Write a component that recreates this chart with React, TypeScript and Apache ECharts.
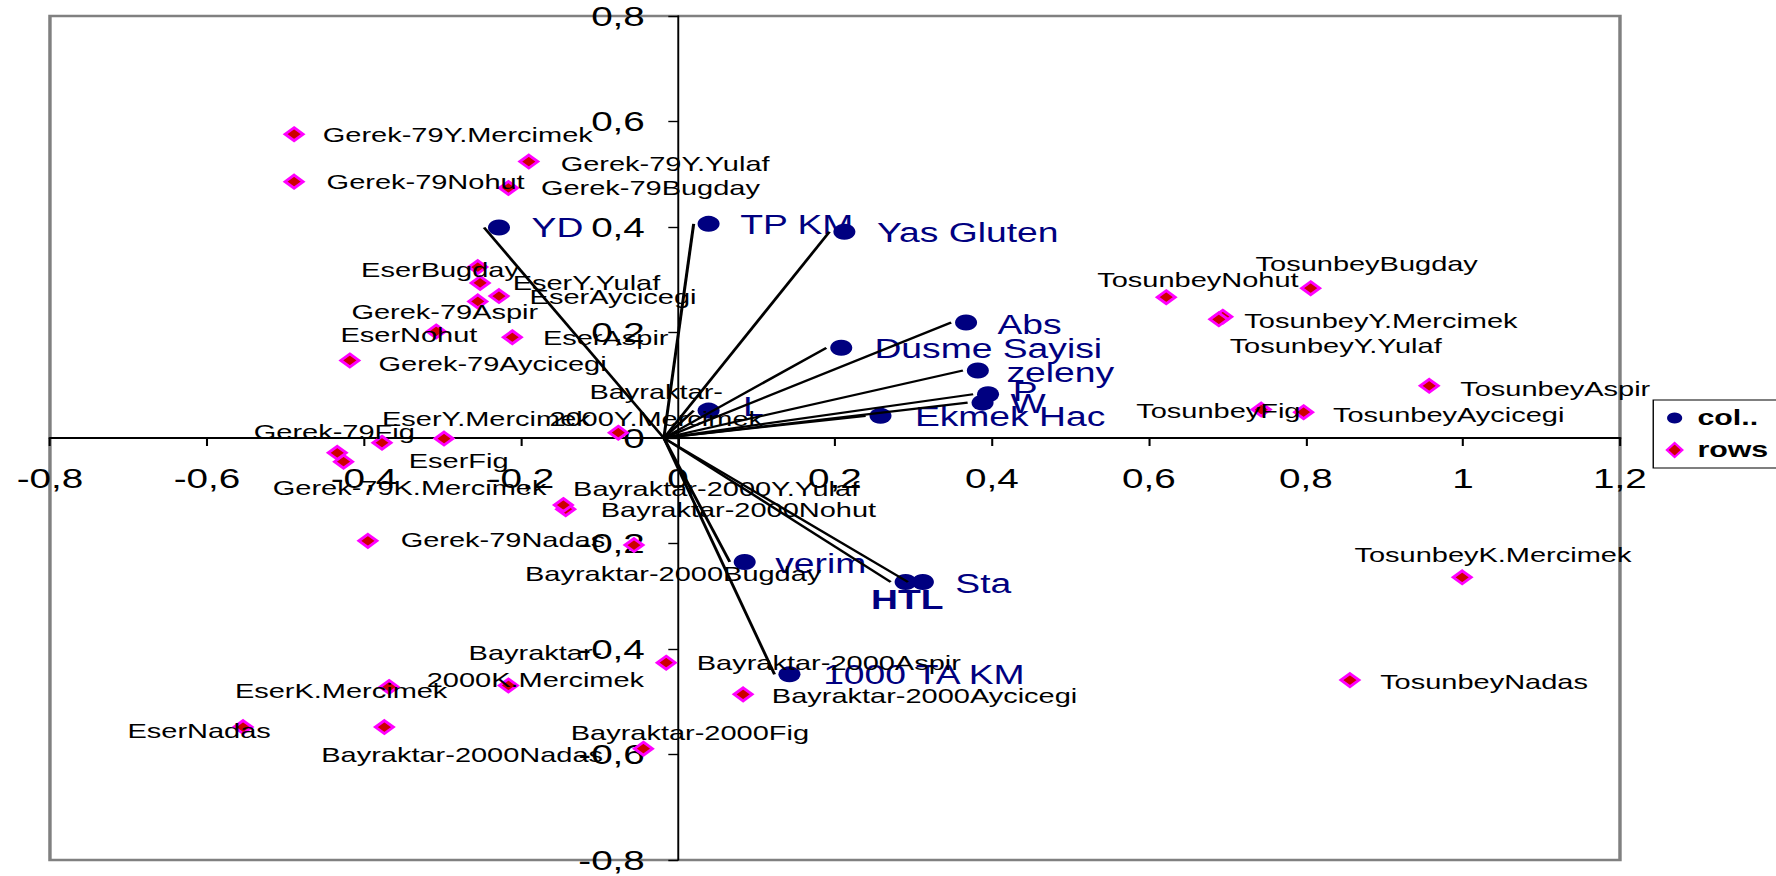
import React, { useEffect, useRef } from 'react';
import * as echarts from 'echarts';

// ---------- data ----------
const rowNames = [
  'Gerek-79Y.Mercimek', 'Gerek-79Nohut', 'Gerek-79Y.Yulaf', 'Gerek-79Bugday',
  'EserBugday', 'EserY.Yulaf', 'EserAycicegi', 'Gerek-79Aspir', 'EserNohut',
  'EserAspir', 'Gerek-79Aycicegi', 'EserY.Mercimek', 'Gerek-79Fig',
  'Gerek-79K.Mercimek', 'EserFig', 'Gerek-79Nadas', 'Bayraktar-2000Nohut',
  'Bayraktar-2000Y.Yulaf', 'Bayraktar-2000Bugday', 'Bayraktar-2000Y.Mercimek',
  'Bayraktar-2000K.Mercimek', 'EserK.Mercimek', 'EserNadas', 'Bayraktar-2000Nadas',
  'Bayraktar-2000Aspir', 'Bayraktar-2000Aycicegi', 'Bayraktar-2000Fig',
  'TosunbeyNohut', 'TosunbeyBugday', 'TosunbeyY.Mercimek', 'TosunbeyY.Yulaf',
  'TosunbeyAspir', 'TosunbeyFig', 'TosunbeyAycicegi', 'TosunbeyK.Mercimek',
  'TosunbeyNadas',
];
const rowX = [
  -0.489, -0.489, -0.19, -0.216,
  -0.255, -0.252, -0.228, -0.255, -0.308,
  -0.211, -0.418, -0.298, -0.377,
  -0.426, -0.434, -0.395, -0.143,
  -0.146, -0.056, -0.076,
  -0.216, -0.368, -0.554, -0.374,
  -0.015, 0.083, -0.044,
  0.622, 0.806, 0.694, 0.689,
  0.957, 0.743, 0.797, 0.999,
  0.856,
];
const rowY = [
  0.576, 0.486, 0.524, 0.474,
  0.324, 0.294, 0.269, 0.259, 0.202,
  0.191, 0.147, -0.001, -0.009,
  -0.045, -0.028, -0.195, -0.135,
  -0.127, -0.203, 0.01,
  -0.469, -0.472, -0.548, -0.548,
  -0.426, -0.486, -0.589,
  0.267, 0.284, 0.23, 0.225,
  0.099, 0.054, 0.049, -0.264,
  -0.459,
];

const colNames = [
  'YD', 'TP KM', 'Yas Gluten', 'Abs', 'Dusme Sayisi', 'zeleny', 'P', 'W',
  'Ekmek Hac', 'L', 'verim', 'HTL', 'Sta', '1000 TA KM',
];
const colX = [-0.228, 0.039, 0.212, 0.367, 0.208, 0.382, 0.395, 0.388, 0.258, 0.039, 0.085, 0.29, 0.312, 0.142];
const colY = [0.399, 0.406, 0.391, 0.219, 0.171, 0.128, 0.083, 0.067, 0.042, 0.052, -0.235, -0.273, -0.273, -0.448];

const X_MIN = -0.8;
const X_MAX = 1.2;
const Y_MIN = -0.8;
const Y_MAX = 0.8;
const TICK_STEP = 0.2;

// ---------- layout (label offsets in page px: dx, dy, align) ----------
const rowLabelLayout: [number, number, string][] = [
  [28.7, 0, 'l'], [32.5, 0, 'l'], [31.9, 1.6, 'l'], [32.5, 0, 'l'],
  [-116.7, 2.5, 'l'], [32.5, 0, 'l'], [30.6, 0.7, 'l'], [-126.4, 10, 'l'], [-95.7, 3.3, 'l'],
  [30.6, 0, 'l'], [28.7, 2.6, 'l'], [-62, -20, 'l'], [-128.2, -11, 'l'],
  [-70.8, 25.6, 'l'], [71.5, 7.3, 'l'], [32.8, -1, 'l'], [35, 0.7, 'l'],
  [9.7, -16.7, 'l'], [-109, 28.3, 'l'], [37.9, -27.3, 'c'],
  [27, -19.2, 'c'], [-154.2, 3.3, 'l'], [-115.6, 3.3, 'l'], [-63.1, 27.3, 'l'],
  [30.6, 0, 'l'], [28.7, 1, 'l'], [-72.7, -16.6, 'l'],
  [-69, -17.3, 'l'], [-55.1, -25, 'l'], [21.6, 4, 'l'], [10.8, 26.4, 'l'],
  [31, 2.6, 'l'], [-125, 1.4, 'l'], [29.4, 2.7, 'l'], [-107.7, -22.3, 'l'],
  [30.2, 1.7, 'l'],
];
// offsets to the left edge / vertical centre of each column label
const colLabelLayout: [number, number][] = [
  [32.6, 0.6], [31.7, 1], [32.6, 1.6], [31.4, 2.3], [33.2, 0.6], [28.6, 2.6], [24.8, -2.3], [28, 1.3],
  [34.4, 1], [34.4, -4], [30.5, 1.6], [-34.5, 18.3], [32.4, 1.6], [33.7, 1],
];
const boldCols = ['HTL'];

const STRETCH = 1.38; // the reference is horizontally stretched
const W = 1287;
const H = 876;
const GRID = { left: 36.2, right: 113.1, top: 16, bottom: 16 };
const FONT = '"Liberation Sans", Arial, sans-serif';
const VEC_ORIGIN = [-0.018, 0];
const VEC_SHIFT = -0.019;

const fmt = (v: number) => {
  const r = Math.round(v * 10) / 10;
  return String(r === 0 ? 0 : r).replace('.', ',');
};

export default function App() {
  const ref = useRef<HTMLDivElement>(null);
  useEffect(() => {
    document.body.style.margin = '0';
    document.body.style.overflow = 'hidden';
    const chart = echarts.init(ref.current as HTMLDivElement, undefined, { renderer: 'svg' });

    const gridW = W - GRID.left - GRID.right;
    const gridH = H - GRID.top - GRID.bottom;
    // put the axes through the origin (Excel style) by offsetting them from the grid edges
    const xAxisOffset = -gridH * (0 - Y_MIN) / (Y_MAX - Y_MIN);
    const yAxisOffset = -gridW * (0 - X_MIN) / (X_MAX - X_MIN);

    const rowData = rowNames.map((n, i) => ({
      name: n,
      value: [rowX[i], rowY[i]],
      label: {
        offset: [rowLabelLayout[i][0] / STRETCH, rowLabelLayout[i][1]],
        align: rowLabelLayout[i][2] === 'c' ? 'center' : 'left',
      },
    }));
    const colData = colNames.map((n, i) => ({
      name: n,
      value: [colX[i], colY[i]],
      label: {
        offset: [colLabelLayout[i][0] / STRETCH, colLabelLayout[i][1]],
        align: 'left',
        fontWeight: boldCols.includes(n) ? 'bold' : 'normal',
      },
    }));
    const vecData = colNames.map((n, i) => ({
      coords: [VEC_ORIGIN, [colX[i] + VEC_SHIFT, colY[i]]],
    }));

    const option: any = {
      animation: false,
      backgroundColor: '#ffffff',
      textStyle: { fontFamily: FONT },
      grid: {
        ...GRID,
        containLabel: false,
        outerBoundsMode: 'none',
        show: true, borderColor: '#808080', borderWidth: 2.5, backgroundColor: 'transparent',
      },
      xAxis: {
        type: 'value', min: X_MIN, max: X_MAX, interval: TICK_STEP,
        position: 'bottom', offset: xAxisOffset,
        axisLine: { show: true, onZero: false, lineStyle: { color: '#000', width: 2.2 } },
        axisTick: { show: true, length: 8, lineStyle: { color: '#000', width: 1.5 } },
        axisLabel: { margin: 26, fontSize: 28, color: '#000', fontFamily: FONT, formatter: fmt },
        splitLine: { show: false },
      },
      yAxis: {
        type: 'value', min: Y_MIN, max: Y_MAX, interval: TICK_STEP,
        position: 'left', offset: yAxisOffset,
        axisLine: { show: true, onZero: false, lineStyle: { color: '#000', width: 1.4 } },
        axisTick: { show: true, length: 7, lineStyle: { color: '#000', width: 1.4 } },
        axisLabel: { margin: 24, fontSize: 28, color: '#000', fontFamily: FONT, formatter: fmt },
        splitLine: { show: false },
      },
      legend: {
        orient: 'vertical', left: 1198, top: 400,
        padding: [5, 30, 5, 9], itemGap: 6, itemWidth: 11, itemHeight: 14,
        borderColor: '#000', borderWidth: 1, backgroundColor: '#fff',
        textStyle: { fontSize: 22, fontWeight: 'bold', color: '#000', fontFamily: FONT, lineHeight: 26, padding: [0, 0, 0, 6] },
        data: [{ name: 'col..', icon: 'circle' }, { name: 'rows', icon: 'diamond' }],
      },
      series: [
        {
          name: 'col..', type: 'scatter', symbol: 'circle', symbolSize: 16, z: 3,
          itemStyle: { color: '#000080', opacity: 1 },
          label: {
            show: true, position: 'inside', fontSize: 27, color: '#000080', fontFamily: FONT,
            formatter: (p: any) => p.name,
          },
          data: colData,
        },
        {
          name: 'vectors', type: 'lines', coordinateSystem: 'cartesian2d', z: 4,
          lineStyle: { color: '#000', width: 2.2, opacity: 1, curveness: 0 },
          data: vecData,
        },
        {
          name: 'rows', type: 'scatter', symbol: 'diamond', symbolSize: 13, z: 5,
          itemStyle: { color: '#cc0000', borderColor: '#ff00ff', borderWidth: 2.5, opacity: 1 },
          label: {
            show: true, position: 'inside', fontSize: 21, color: '#000', fontFamily: FONT, lineHeight: 27,
            formatter: (p: any) =>
              rowLabelLayout[p.dataIndex][2] === 'c' ? p.name.replace('Bayraktar-', 'Bayraktar-\n') : p.name,
          },
          data: rowData,
        },
      ],
    };
    chart.setOption(option);
    return () => chart.dispose();
  }, []);
  return (
    <div
      ref={ref}
      style={{
        position: 'absolute', left: 0, top: 0, width: W, height: H,
        transform: `scaleX(${STRETCH})`, transformOrigin: '0 0', background: '#fff',
      }}
    />
  );
}
